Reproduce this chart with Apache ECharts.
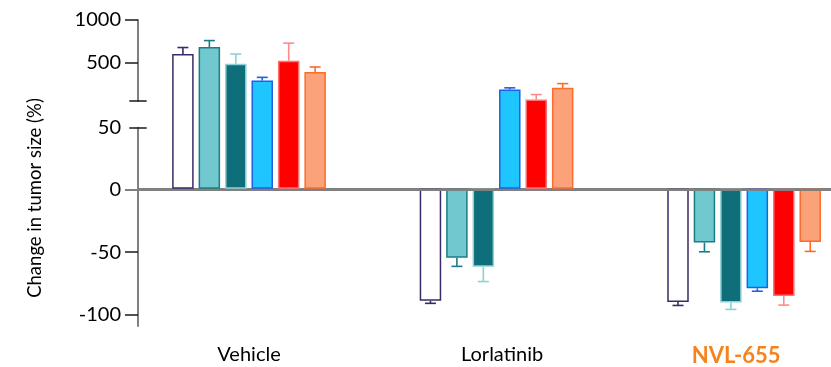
<!DOCTYPE html>
<html>
<head>
<meta charset="utf-8">
<script src="https://cdn.jsdelivr.net/npm/echarts@6/dist/echarts.min.js"></script>
<style>
  html, body { margin: 0; padding: 0; background: #ffffff; }
  #chart { width: 831px; height: 367px; }
</style>
</head>
<body>
<div id="chart"></div>
<script>
// Treatment groups along the x axis
const categories = ['Vehicle', 'Lorlatinib', 'NVL-655'];
const highlightCategory = 'NVL-655';

// Mean change in tumor size (%) per model, one value per treatment group
const model1 = [598, -90.6, -91.6];
const model2 = [680, -55.7, -43.4];
const model3 = [484, -63.0, -91.9];
const model4 = [285, 179, -80.4];
const model5 = [519, 62, -86.6];
const model6 = [387, 199, -42.9];

// One-sided error (SEM) for each bar
const model1Err = [77, 2.0, 2.7];
const model2Err = [77, 7.0, 7.5];
const model3Err = [114, 12.0, 5.6];
const model4Err = [38, 20, 2.4];
const model5Err = [208, 58, 7.4];
const model6Err = [58, 50, 7.7];

// Y axis tick labels of the two segments
const upperTicks = [500, 1000];
const lowerTicks = [-100, -50, 0, 50];

// ---- segmented (broken) y scale ----
const LOWER_MIN = -109.3, BREAK_VALUE = 50, UPPER_MAX = 1000;
const PLOT_TOP = 20, PLOT_BOTTOM = 326, CHART_H = 367;
const UPPER_H = 81, GAP_H = 26.7;
const lowerH = PLOT_BOTTOM - PLOT_TOP - UPPER_H - GAP_H;
const pxPerUnit = lowerH / (BREAK_VALUE - LOWER_MIN);
const tGap = GAP_H / pxPerUnit;
const kUpper = UPPER_H / (UPPER_MAX - BREAK_VALUE) / pxPerUnit;
function seg(v) {
  return v <= BREAK_VALUE ? v : BREAK_VALUE + tGap + (v - BREAK_VALUE) * kUpper;
}

// ---- layout ----
const GRID_LEFT = 138;
const X_MIN = -0.4485, X_MAX = 2.351;
const BAR_W = 21.5, BAR_GAP = 0.23;
const PITCH = BAR_W * (1 + BAR_GAP);
const FONT = 'Lato, "Open Sans", sans-serif';
const AXIS_GRAY = '#808080';

const models = [
  { name: 'Model 1', vals: model1, err: model1Err, fill: '#ffffff', border: '#3a2a66', errColor: '#3a2a66' },
  { name: 'Model 2', vals: model2, err: model2Err, fill: '#72c8cf', border: '#1b7d83', errColor: '#1b7d83' },
  { name: 'Model 3', vals: model3, err: model3Err, fill: '#0e6e79', border: '#8dd1d6', errColor: '#8dd1d6' },
  { name: 'Model 4', vals: model4, err: model4Err, fill: '#1ec5ff', border: '#2060e8', errColor: '#2060e8' },
  { name: 'Model 5', vals: model5, err: model5Err, fill: '#ff0000', border: '#ff7070', errColor: '#ff8a8a' },
  { name: 'Model 6', vals: model6, err: model6Err, fill: '#fca27b', border: '#ff6b2b', errColor: '#ff6b2b' }
];

const series = [];
models.forEach((m, s) => {
  series.push({
    type: 'bar',
    name: m.name,
    xAxisIndex: 0,
    yAxisIndex: 0,
    barWidth: BAR_W,
    barGap: (BAR_GAP * 100) + '%',
    data: m.vals.map((v, i) => [i, seg(v)]),
    itemStyle: { color: m.fill, borderColor: m.border, borderWidth: 1.5 },
    z: 2
  });
});
models.forEach((m, s) => {
  const offset = (s - (models.length - 1) / 2) * PITCH;
  series.push({
    type: 'custom',
    name: m.name + ' error',
    xAxisIndex: 0,
    yAxisIndex: 0,
    clip: false,
    z: 3,
    encode: { x: 0, y: [1, 2] },
    data: m.vals.map((v, i) => [i, seg(v), seg(v + Math.sign(v) * m.err[i])]),
    renderItem: (params, api) => {
      const p0 = api.coord([api.value(0), api.value(1)]);
      const p1 = api.coord([api.value(0), api.value(2)]);
      const x = p0[0] + offset;
      const style = { stroke: m.errColor, lineWidth: 1.6 };
      return {
        type: 'group',
        children: [
          { type: 'line', shape: { x1: x, y1: p0[1], x2: x, y2: p1[1] }, style },
          { type: 'line', shape: { x1: x - 5.5, y1: p1[1], x2: x + 5.5, y2: p1[1] }, style }
        ]
      };
    }
  });
});

const labelStyle = { fontFamily: FONT, fontSize: 20, color: '#000000' };
const tickStyle = { color: '#1a1a1a', width: 1.5 };
const plainNumber = v => String(v);

function capAxis(gridIndex, min, max, value, inside) {
  return {
    type: 'value', gridIndex, position: 'left', min, max,
    axisLine: { show: false },
    axisTick: { show: true, inside, length: 8.7, customValues: [value], lineStyle: tickStyle },
    axisLabel: { show: false },
    splitLine: { show: false }
  };
}

// Group label styles (slight horizontal nudges keep each label where it sits under its group)
const groupLabelRich = {
  g0: { fontFamily: FONT, fontSize: 20, color: '#000000' },
  g1: { fontFamily: FONT, fontSize: 20, color: '#000000', padding: [0, 0, 0, 11] },
  hl: { fontFamily: FONT, fontSize: 22, fontWeight: 'bold', color: '#f7821b', padding: [0, 16, 0, 0] }
};

const option = {
  animation: false,
  grid: [
    { left: GRID_LEFT, right: 0, top: PLOT_TOP, bottom: CHART_H - PLOT_BOTTOM },
    { left: GRID_LEFT, right: 0, top: PLOT_TOP, height: UPPER_H },
    { left: GRID_LEFT, right: 0, top: PLOT_TOP + UPPER_H + GAP_H, bottom: CHART_H - PLOT_BOTTOM }
  ],
  xAxis: [
    {
      type: 'value', gridIndex: 0, min: X_MIN, max: X_MAX,
      axisLine: { show: true, lineStyle: { color: AXIS_GRAY, width: 2 } },
      axisTick: { show: false },
      splitLine: { show: false },
      axisLabel: {
        customValues: categories.map((c, i) => i),
        margin: 21,
        ...labelStyle,
        formatter: v => {
          const i = Math.round(v);
          const name = categories[i];
          return name === highlightCategory ? '{hl|' + name + '}' : '{g' + i + '|' + name + '}';
        },
        rich: groupLabelRich
      }
    },
    { type: 'value', gridIndex: 1, min: 0, max: 1, show: false },
    {
      type: 'value', gridIndex: 2, min: 0, max: 1, z: 6,
      axisLine: { show: true, onZero: true, lineStyle: { color: AXIS_GRAY, width: 2 } },
      axisTick: { show: false },
      axisLabel: { show: false },
      splitLine: { show: false }
    }
  ],
  yAxis: [
    { type: 'value', gridIndex: 0, min: LOWER_MIN, max: seg(UPPER_MAX), show: false },
    {
      type: 'value', gridIndex: 1, position: 'left', min: BREAK_VALUE, max: UPPER_MAX,
      axisLine: { show: true, lineStyle: { color: AXIS_GRAY, width: 2 } },
      axisTick: { show: true, length: 13, customValues: upperTicks, lineStyle: tickStyle },
      axisLabel: { customValues: upperTicks, margin: 17, showMaxLabel: true, formatter: plainNumber, ...labelStyle },
      splitLine: { show: false }
    },
    capAxis(1, BREAK_VALUE, UPPER_MAX, BREAK_VALUE, false),
    capAxis(1, BREAK_VALUE, UPPER_MAX, BREAK_VALUE, true),
    {
      type: 'value', gridIndex: 2, position: 'left', min: LOWER_MIN, max: BREAK_VALUE,
      axisLine: { show: true, lineStyle: { color: AXIS_GRAY, width: 2 } },
      axisTick: { show: true, length: 13, customValues: lowerTicks.filter(t => t < 0), lineStyle: tickStyle },
      axisLabel: { customValues: lowerTicks, margin: 17, showMaxLabel: true, formatter: plainNumber, ...labelStyle },
      splitLine: { show: false }
    },
    {
      type: 'value', gridIndex: 2, position: 'left', min: LOWER_MIN, max: BREAK_VALUE,
      axisLine: { show: false },
      axisTick: { show: true, length: 13, customValues: [0], lineStyle: { color: AXIS_GRAY, width: 2 } },
      axisLabel: { show: false },
      splitLine: { show: false }
    },
    capAxis(2, LOWER_MIN, BREAK_VALUE, BREAK_VALUE, false),
    capAxis(2, LOWER_MIN, BREAK_VALUE, BREAK_VALUE, true)
  ],
  graphic: [
    {
      type: 'text',
      x: 35, y: 198,
      rotation: Math.PI / 2,
      style: {
        text: 'Change in tumor size (%)',
        fontFamily: FONT, fontSize: 18.5, fill: '#000000',
        textAlign: 'center', textVerticalAlign: 'middle'
      }
    }
  ],
  series
};

const chart = echarts.init(document.getElementById('chart'), null, { renderer: 'canvas' });
chart.setOption(option);
</script>
</body>
</html>
